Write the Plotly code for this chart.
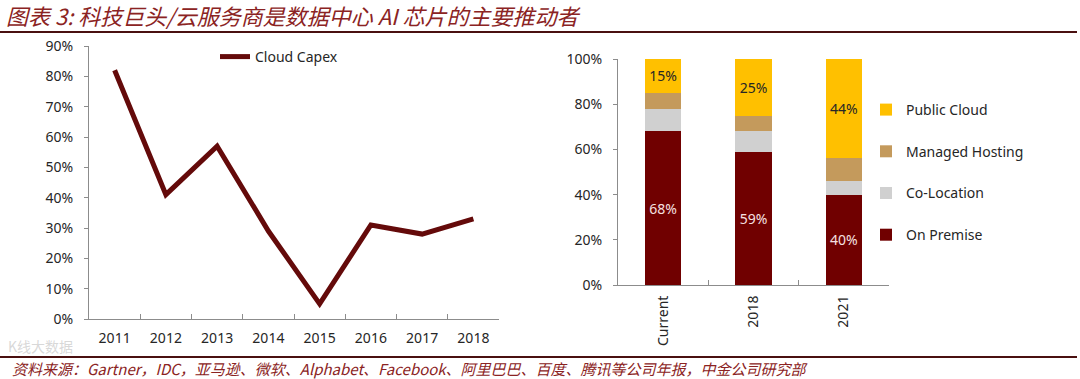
import plotly.graph_objects as go

# ---- data ----
years = ["2011", "2012", "2013", "2014", "2015", "2016", "2017", "2018"]
cloud_capex = [0.82, 0.41, 0.57, 0.29, 0.05, 0.31, 0.28, 0.33]

periods = ["Current", "2018", "2021"]
on_premise = [0.68, 0.59, 0.40]
co_location = [0.10, 0.09, 0.06]
managed_hosting = [0.07, 0.07, 0.10]
public_cloud = [0.15, 0.25, 0.44]

title_text = "图表 3: 科技巨头/云服务商是数据中心 AI 芯片的主要推动者"
source_text = "资料来源：Gartner，IDC，亚马逊、微软、Alphabet、Facebook、阿里巴巴、百度、腾讯等公司年报，中金公司研究部"

W, H = 1080, 379
MAROON = "#640A0A"
BAR_RED = "#700000"
GOLD = "#FFC000"
TAN = "#C49A5C"
GREY = "#D0D0D0"
AXIS = "#8C8C8C"
TXT = "#262626"
FONT = "Noto Sans, Open Sans, sans-serif"
CJK = "Noto Sans CJK SC"


def px_x(p):
    return p / W


def px_y(p):
    return 1 - p / H


fig = go.Figure()

fig.add_trace(go.Scatter(
    x=years, y=cloud_capex, mode="lines", name="Cloud Capex",
    line=dict(color=MAROON, width=5), xaxis="x", yaxis="y",
    legend="legend2",
))


def pct_labels(vals):
    return [f"{round(v * 100)}%" for v in vals]


fig.add_trace(go.Bar(
    x=periods, y=on_premise, name="On Premise", marker_color=BAR_RED,
    text=pct_labels(on_premise), textposition="inside", insidetextanchor="middle",
    textfont=dict(color="#F6E0E0", size=14, family=FONT),
    xaxis="x2", yaxis="y2", legendgroup="a", legendrank=4, width=0.4,
))
fig.add_trace(go.Bar(
    x=periods, y=co_location, name="Co-Location", marker_color=GREY,
    xaxis="x2", yaxis="y2", legendgroup="b", legendrank=3, width=0.4,
))
fig.add_trace(go.Bar(
    x=periods, y=managed_hosting, name="Managed Hosting", marker_color=TAN,
    xaxis="x2", yaxis="y2", legendgroup="c", legendrank=2, width=0.4,
))
fig.add_trace(go.Bar(
    x=periods, y=public_cloud, name="Public Cloud", marker_color=GOLD,
    text=pct_labels(public_cloud), textposition="inside", insidetextanchor="middle",
    textfont=dict(color=TXT, size=14, family=FONT),
    xaxis="x2", yaxis="y2", legendgroup="d", legendrank=1, width=0.4,
))

axis_common = dict(
    showline=True, linecolor=AXIS, linewidth=1, showgrid=False, zeroline=False,
    tickfont=dict(size=14, color=TXT, family=FONT), tickcolor=AXIS,
    automargin=False,
)

fig.update_layout(
    template="none",
    width=W, height=H, margin=dict(l=0, r=0, t=0, b=0, pad=0),
    paper_bgcolor="white", plot_bgcolor="white",
    barmode="stack", showlegend=True,
    font=dict(family=FONT, color=TXT),
    xaxis=dict(domain=[px_x(89), px_x(499)], anchor="y", type="category",
               range=[-0.5, len(years) - 0.5],
               tickson="boundaries", ticks="inside", ticklen=5,
               ticklabelstandoff=6, **axis_common),
    yaxis=dict(domain=[px_y(319), px_y(46)], anchor="x", range=[0, 0.9],
               dtick=0.1, tickformat=".0%", ticks="outside", ticklen=4,
               ticklabelstandoff=8, **axis_common),
    xaxis2=dict(domain=[px_x(618), px_x(889)], anchor="y2", type="category",
                range=[-0.5, len(periods) - 0.5],
                tickson="boundaries", ticks="inside", ticklen=5, tickangle=-90,
                ticklabelstandoff=4, **axis_common),
    yaxis2=dict(domain=[px_y(285), px_y(59)], anchor="x2", range=[0, 1],
                dtick=0.2, tickformat=".0%", ticks="outside", ticklen=4,
                ticklabelstandoff=8, **axis_common),
    legend=dict(x=px_x(866), y=px_y(94), xanchor="left", yanchor="top",
                traceorder="grouped", tracegroupgap=20.5,
                font=dict(size=14, color=TXT, family=FONT),
                bgcolor="rgba(0,0,0,0)", itemwidth=30),
    legend2=dict(x=px_x(215), y=px_y(41), xanchor="left", yanchor="top",
                 orientation="h",
                 font=dict(size=14, color=TXT, family=FONT),
                 bgcolor="rgba(0,0,0,0)"),
    shapes=[
        dict(type="line", xref="paper", yref="paper", x0=0, x1=px_x(1077),
             y0=px_y(32), y1=px_y(32), line=dict(color="#4A1010", width=2)),
        dict(type="line", xref="paper", yref="paper", x0=0, x1=px_x(1077),
             y0=px_y(357), y1=px_y(357), line=dict(color="#4A1010", width=2)),
    ],
    annotations=[
        dict(text=f"<i>{title_text}</i>", xref="paper", yref="paper",
             x=px_x(4), y=px_y(15), xanchor="left", yanchor="middle",
             showarrow=False, font=dict(size=22, color="#8B2323", family=CJK)),
        dict(text=f"<i>{source_text}</i>", xref="paper", yref="paper",
             x=px_x(10), y=px_y(368), xanchor="left", yanchor="middle",
             showarrow=False, font=dict(size=15, color="#8B2323", family=CJK)),
        dict(text="K线大数据", xref="paper", yref="paper",
             x=px_x(6), y=px_y(346), xanchor="left", yanchor="middle",
             showarrow=False, font=dict(size=14, color="rgba(190,190,190,0.6)", family=CJK)),
    ],
)

fig.write_html(
    "out.html",
    config={"displayModeBar": False},
    post_script="document.body.style.margin='0';document.body.style.overflow='hidden';",
)
